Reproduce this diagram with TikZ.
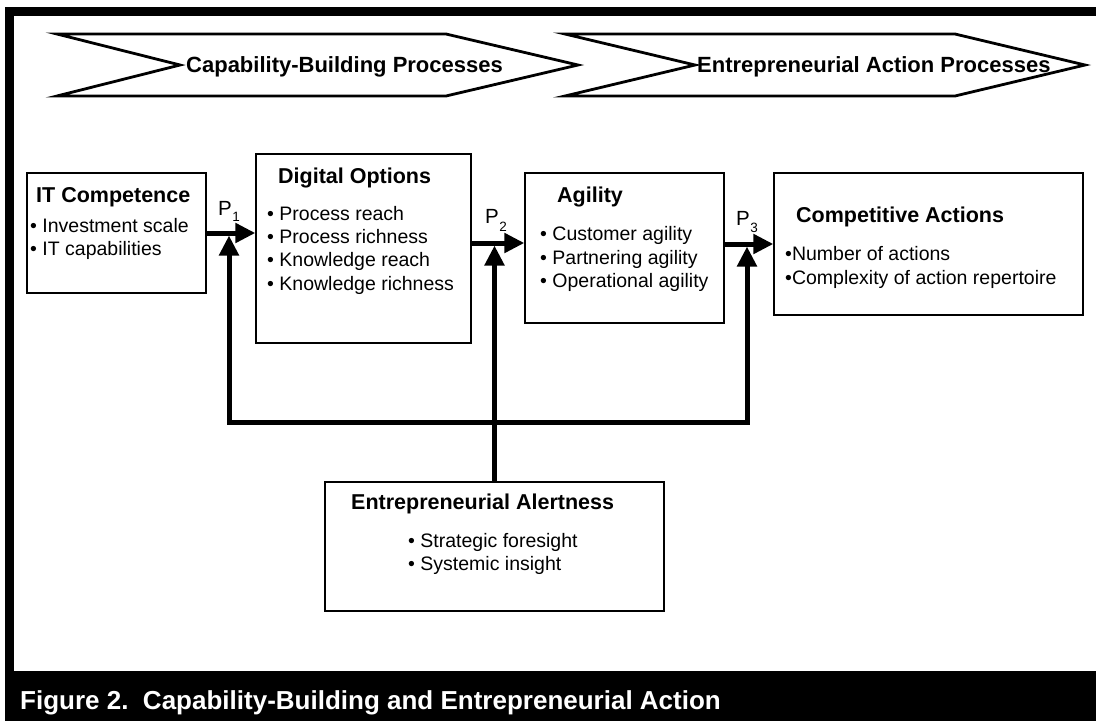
\documentclass[tikz,border=0pt]{standalone}
\usepackage{fontspec}
\setmainfont{Liberation Sans}
\usetikzlibrary{arrows.meta}
\tikzset{
  box/.style={draw, line width=1.3pt, inner sep=0pt},
  ttl/.style={anchor=base west, inner sep=0pt, font=\fontsize{21.5}{25}\selectfont\bfseries},
  itm/.style={anchor=base west, inner sep=0pt, font=\fontsize{19.5}{23}\selectfont},
  chev/.style={draw, line width=2.8pt, line join=miter},
  chevtxt/.style={anchor=base west, inner sep=0pt, font=\fontsize{22}{26}\selectfont\bfseries},
  conn/.style={line width=5pt, -{Triangle[length=20pt,width=19pt]}},
  plab/.style={anchor=base west, inner sep=0pt, font=\fontsize{20.5}{24}\selectfont},
  psub/.style={anchor=base west, inner sep=0pt, font=\fontsize{13.5}{15}\selectfont},
}
\begin{document}
\begin{tikzpicture}[x=1pt,y=-1pt]
\useasboundingbox (0,0) rectangle (1096,721);
% frame
\fill[black] (5,7) rectangle (1096,16);
\fill[black] (5,7) rectangle (14,671);
\fill[black] (5,671) rectangle (1096,721);
\node[anchor=base west, inner sep=0pt, text=white, font=\fontsize{26}{30}\selectfont\bfseries] (cap) at (20,709) {Figure 2.~~Capability-Building and Entrepreneurial Action};
% chevrons
\draw[chev] (57,34) -- (446,34) -- (578,65) -- (446,96) -- (57,96) -- (180,65) -- cycle;
\draw[chev] (565,34) -- (955,34) -- (1085,65) -- (955,96) -- (565,96) -- (695,65) -- cycle;
\node[chevtxt] (c1) at (186,72) {Capability-Building Processes};
\node[chevtxt] (c2) at (697,72) {Entrepreneurial Action Processes};
% boxes
\node[box, minimum width=179pt, minimum height=120pt] (itc) at (116.5,233) {};
\node[box, minimum width=215pt, minimum height=189pt] (dig) at (363.5,248.5) {};
\node[box, minimum width=199pt, minimum height=150pt] (agi) at (624.5,248) {};
\node[box, minimum width=309pt, minimum height=142pt] (cmp) at (928.5,244) {};
\node[box, minimum width=339pt, minimum height=129pt] (ale) at (494.5,546.5) {};
% texts
\node[ttl] (itct) at (36,202) {IT Competence};
\node[itm] (itc1) at (30,232) {• Investment scale};
\node[itm] (itc2) at (30,255) {• IT capabilities};
\node[ttl] (digt) at (278,183) {Digital Options};
\node[itm] (dig1) at (267,220) {• Process reach};
\node[itm] (dig2) at (267,243.3) {• Process richness};
\node[itm] (dig3) at (267,266.6) {• Knowledge reach};
\node[itm] (dig4) at (267,290) {• Knowledge richness};
\node[ttl] (agit) at (557,202) {Agility};
\node[itm] (agi1) at (540,240) {• Customer agility};
\node[itm] (agi2) at (540,264) {• Partnering agility};
\node[itm] (agi3) at (540,287) {• Operational agility};
\node[ttl] (cmpt) at (796,222) {Competitive Actions};
\node[itm] (cmp1) at (785,260) {•Number of actions};
\node[itm] (cmp2) at (785,284) {•Complexity of action repertoire};
\node[ttl] (alet) at (351,509) {Entrepreneurial Alertness};
\node[itm] (ale1) at (408,547) {• Strategic foresight};
\node[itm] (ale2) at (408,570) {• Systemic insight};
% P labels
\node[plab] (p1) at (218,215) {P};
\node[psub] (p1s) at (p1.base east) [yshift=-6pt] {1};
\node[plab] (p2) at (485,223) {P};
\node[psub] (p2s) at (p2.base east) [yshift=-8pt] {2};
\node[plab] (p3) at (736,225) {P};
\node[psub] (p3s) at (p3.base east) [yshift=-7pt] {3};
% connectors
\draw[conn] (itc.east) -- (itc.east -| dig.west);
\draw[conn] ([yshift=5.5pt]dig.east) -- ([yshift=5.5pt]dig.east -| agi.west);
\draw[conn] (agi.east |- cmp.west) -- (cmp.west);
\coordinate (jl) at (229,422);
\coordinate (jr) at (747,422);
\coordinate (t1) at (229,235.5);
\coordinate (t2) at (494.5,245.5);
\coordinate (t3) at (747,246.5);
\draw[line width=5pt, line join=miter, {Triangle[length=20pt,width=19pt]}-{Triangle[length=20pt,width=19pt]}] (t1) -- (jl) -- (jr) -- (t3);
\draw[conn] (ale.north) -- (t2);
\end{tikzpicture}
\end{document}
